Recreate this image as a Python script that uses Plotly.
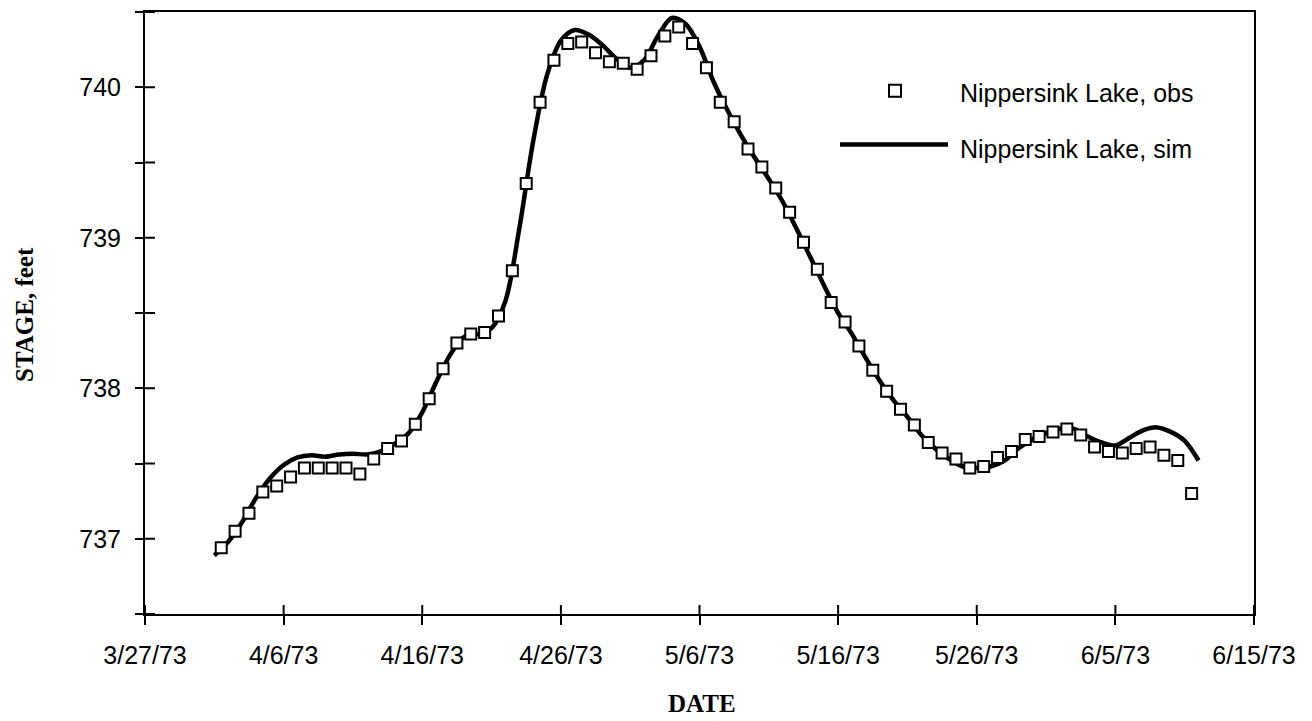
import pandas as pd
import plotly.graph_objects as go

# Observed daily stage (feet), 4/1/73 through 6/10/73, plotted at midday
obs_stage = [
    736.94, 737.05, 737.17, 737.31, 737.35, 737.41, 737.47, 737.47, 737.47, 737.47,
    737.43, 737.53, 737.60, 737.65, 737.76, 737.93, 738.13,
    738.30, 738.36, 738.37, 738.48, 738.78, 739.36, 739.90, 740.18, 740.29, 740.30,
    740.23, 740.17, 740.16,
    740.12, 740.21, 740.34, 740.40, 740.29, 740.13, 739.90, 739.77, 739.59, 739.47,
    739.33, 739.17, 738.97, 738.79, 738.57, 738.44, 738.28,
    738.12, 737.98, 737.86, 737.755, 737.64, 737.57, 737.53, 737.47, 737.48, 737.54,
    737.58, 737.66, 737.68, 737.71,
    737.73, 737.69, 737.61, 737.58, 737.57, 737.60, 737.61, 737.555, 737.52, 737.30,
]

# Simulated stage (feet), 4/1/73 through 6/11/73, daily at midnight
sim_stage = [
    736.89, 736.98, 737.11, 737.27, 737.40, 737.49, 737.54, 737.555, 737.545, 737.56,
    737.565, 737.56, 737.58, 737.63, 737.70, 737.84, 738.04, 738.22, 738.34, 738.36,
    738.40, 738.58, 739.06, 739.64, 740.08, 740.31, 740.38, 740.35, 740.28, 740.19,
    740.13, 740.18, 740.34, 740.46, 740.42, 740.27, 740.04, 739.85, 739.68, 739.53,
    739.39, 739.24, 739.06, 738.87, 738.68, 738.50, 738.36, 738.20, 738.05, 737.92,
    737.81, 737.69, 737.60, 737.53, 737.48, 737.47, 737.48, 737.52, 737.60, 737.66,
    737.70,
    737.73, 737.73, 737.68, 737.64, 737.62, 737.67, 737.72, 737.74, 737.71, 737.65,
    737.52,
]

obs_dates = pd.date_range("1973-04-01 12:00", periods=len(obs_stage), freq="D")
sim_dates = pd.date_range("1973-04-01 00:00", periods=len(sim_stage), freq="D")

# Axis extents and tick positions
x_range = ["1973-03-27", "1973-06-15"]
y_range = [736.5, 740.5]
x_tick_dates = pd.date_range(x_range[0], x_range[1], freq="10D")
y_tick_vals = [736.5, 737.0, 737.5, 738.0, 738.5, 739.0, 739.5, 740.0, 740.5]
DAY_MS = 86400000

legend_labels = ["Nippersink Lake, obs", "Nippersink Lake, sim"]

W, H = 1312, 721
ML, MR, MT, MB = 145, 58, 10, 107
PW, PH = W - ML - MR, H - MT - MB

TICK_FONT = "Liberation Sans, Arial, Helvetica, sans-serif"
TITLE_FONT = "Liberation Serif, Times New Roman, serif"


def px_x(px):
    return (px - ML) / PW


def px_y(py):
    return (H - MB - py) / PH


fig = go.Figure()

fig.add_trace(go.Scatter(
    x=sim_dates, y=sim_stage, mode="lines", name=legend_labels[1],
    line=dict(color="black", width=4.5, shape="spline", smoothing=0.9),
    showlegend=False,
))
fig.add_trace(go.Scatter(
    x=obs_dates, y=obs_stage, mode="markers", name=legend_labels[0],
    marker=dict(symbol="square", size=11, color="white",
                line=dict(color="black", width=2)),
    showlegend=False,
))

fig.update_layout(
    width=W, height=H,
    margin=dict(l=ML, r=MR, t=MT, b=MB),
    paper_bgcolor="white", plot_bgcolor="white",
    font=dict(family=TICK_FONT, size=25, color="black"),
    xaxis=dict(
        type="date", range=x_range,
        tickmode="linear", tick0=x_range[0], dtick=10 * DAY_MS,
        tickformat="%-m/%-d/%y",
        ticks="outside", ticklen=9, tickwidth=2, tickcolor="black",
        ticklabelstandoff=9,
        showline=True, linecolor="black", linewidth=2, mirror=True,
        showgrid=False, zeroline=False,
    ),
    yaxis=dict(
        range=y_range, tickmode="linear", tick0=737, dtick=1,
        ticks="outside", ticklen=8, tickwidth=2, tickcolor="black",
        minor=dict(tickmode="linear", tick0=736.5, dtick=0.5, ticks="outside",
                   ticklen=8, tickwidth=2, tickcolor="black", showgrid=False),
        ticklabelstandoff=9,
        showline=True, linecolor="black", linewidth=2, mirror=True,
        showgrid=False, zeroline=False,
    ),
)

# Inner half of the cross-style tick marks
for d in x_tick_dates:
    fig.add_shape(
        type="line", xref="x", yref="paper",
        x0=d, x1=d, y0=0, y1=9 / PH, line=dict(color="black", width=2),
    )
for v in y_tick_vals:
    fig.add_shape(
        type="line", xref="paper", yref="y",
        x0=0, x1=10 / PW, y0=v, y1=v, line=dict(color="black", width=2),
    )

# Axis titles
fig.add_annotation(
    text="<b>DATE</b>", xref="paper", yref="paper",
    x=px_x(702), y=px_y(704), xanchor="center", yanchor="middle",
    showarrow=False, font=dict(family=TITLE_FONT, size=25, color="black"),
)
fig.add_annotation(
    text="<b>STAGE, feet</b>", xref="paper", yref="paper",
    x=px_x(25), y=px_y(314), xanchor="center", yanchor="middle",
    textangle=-90, showarrow=False,
    font=dict(family=TITLE_FONT, size=25, color="black"),
)

# Legend drawn inside the plot area
fig.add_shape(
    type="rect", xref="paper", yref="paper",
    x0=px_x(889), x1=px_x(901), y0=px_y(95), y1=px_y(83),
    line=dict(color="black", width=2), fillcolor="white",
)
fig.add_shape(
    type="line", xref="paper", yref="paper",
    x0=px_x(840), x1=px_x(948), y0=px_y(143), y1=px_y(143),
    line=dict(color="black", width=4.5),
)
for label, py in zip(legend_labels, [91, 147]):
    fig.add_annotation(
        text=label, xref="paper", yref="paper",
        x=px_x(958), y=px_y(py), xanchor="left", yanchor="middle",
        showarrow=False, font=dict(family=TICK_FONT, size=25, color="black"),
    )

fig.write_html("out.html")
